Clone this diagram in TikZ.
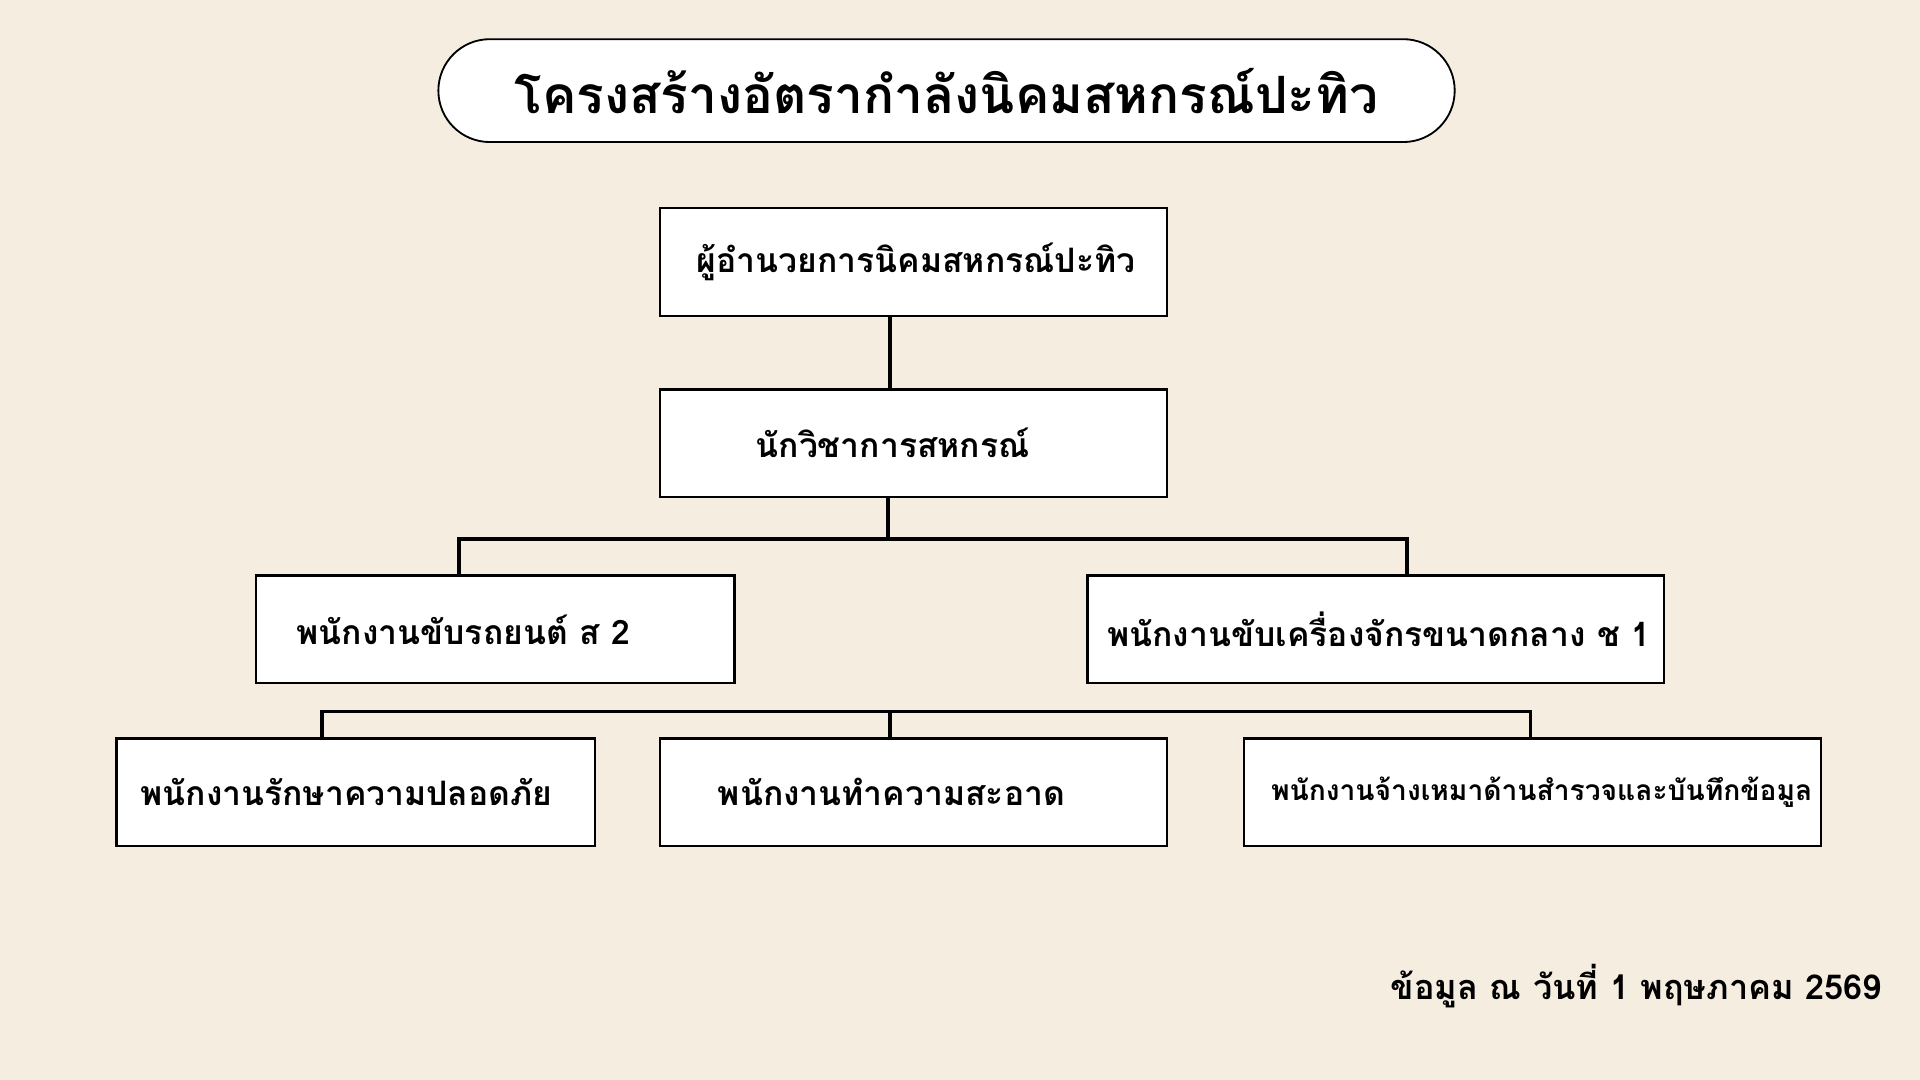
\documentclass[tikz,border=0pt]{standalone}
\usepackage{fontspec}
\newfontfamily\thaifont[Script=Thai]{Loma}
\definecolor{bg}{HTML}{F5EDE0}
\begin{document}
\begin{tikzpicture}[x=1pt,y=-1pt,
  box/.style={draw=black,line width=2pt,fill=white},
  lbl/.style={font=\thaifont\bfseries\fontsize{27.5}{33}\selectfont,inner sep=0},
  conn/.style={line width=3pt,line cap=rect}]
\fill[bg] (0,0) rectangle (1568,882);
\useasboundingbox (0,0) rectangle (1568,882);
\draw[box,line width=1.5pt,rounded corners=42pt] (358,32) rectangle (1188,116);
\node[font=\thaifont\bfseries\fontsize{42}{48}\selectfont,inner sep=0] (title) at (773,74) {โครงสร้างอัตรากำลังนิคมสหกรณ์ปะทิว};
\node[box,minimum width=414pt,minimum height=88pt] (b1) at (746,214) {};
\node[box,minimum width=414pt,minimum height=88pt] (b2) at (746,362) {};
\node[box,minimum width=391pt,minimum height=88pt] (b3) at (404.5,514) {};
\node[box,minimum width=471pt,minimum height=88pt] (b4) at (1123.5,514) {};
\node[box,minimum width=391pt,minimum height=88pt] (b5) at (290.5,647) {};
\node[box,minimum width=414pt,minimum height=88pt] (b6) at (746,647) {};
\node[box,minimum width=471pt,minimum height=88pt] (b7) at (1251.5,647) {};
\node[lbl] (t1) at (748,214) {ผู้อำนวยการนิคมสหกรณ์ปะทิว};
\node[lbl] (t2) at (729,362) {นักวิชาการสหกรณ์};
\node[lbl,anchor=west] (t3) at (242,514) {พนักงานขับรถยนต์ ส 2};
\node[lbl] (t4) at (1126,514) {พนักงานขับเครื่องจักรขนาดกลาง ช 1};
\node[lbl] (t5) at (283,647) {พนักงานรักษาความปลอดภัย};
\node[lbl] (t6) at (728,647) {พนักงานทำความสะอาด};
\node[lbl,font=\thaifont\bfseries\fontsize{23}{28}\selectfont] (t7) at (1259,647) {พนักงานจ้างเหมาด้านสำรวจและบันทึกข้อมูล};
\node[lbl,anchor=east,font=\thaifont\bfseries\fontsize{28}{33}\selectfont] (foot) at (1537,805) {ข้อมูล ณ วันที่ 1 พฤษภาคม 2569};
\coordinate (j1) at (725,440);
\coordinate (bus) at (727,581);
\draw[conn] (b1.south -| 727,0) -- (b2.north -| 727,0);
\draw[conn] (b2.south -| j1) -- (j1);
\draw[conn] (j1) -- (375,440) -- (b3.north -| 375,0);
\draw[conn] (j1) -- (1149,440) -- (b4.north -| 1149,0);
\draw[conn] (bus) -- (263,581) -- (b5.north -| 263,0);
\draw[conn] (bus) -- (b6.north -| bus);
\draw[conn] (bus) -- (1250,581) -- (b7.north -| 1250,0);
\end{tikzpicture}
\end{document}
